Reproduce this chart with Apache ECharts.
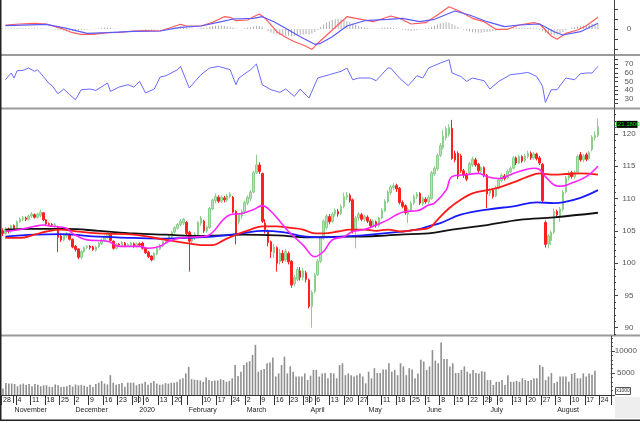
<!DOCTYPE html>
<html><head><meta charset="utf-8">
<script src="https://cdn.jsdelivr.net/npm/echarts@6/dist/echarts.min.js"></script>
<style>html,body{margin:0;padding:0;background:#fff}#c{width:640px;height:423px}</style>
</head><body><div id="c"></div>
<script>
// ---------- categories ----------
const firstDay = [2019, 9, 28];
const holidays = ['2020-01-01','2020-01-23','2020-01-24','2020-01-27','2020-01-28','2020-01-29','2020-04-02','2020-04-30','2020-05-01'];
const slotCount = 210;
const monthNames = ['2020','February','March','April','May','June','July','August','September','October','November','December'];

// ---------- price candles [open, close, low, high] ----------
const candles = [
[105.0,104.6,104.2,105.4],[104.6,105.3,104.4,105.6],[105.3,104.9,104.6,105.5],[104.9,105.8,104.7,106.0],[105.8,105.4,105.1,106.0],
[105.5,106.4,105.3,106.6],[106.4,106.8,106.2,107.1],[106.8,107.0,106.5,107.3],[107.0,106.8,106.5,107.2],[106.8,107.3,106.6,107.5],
[107.3,107.6,107.0,107.9],[107.5,107.1,106.9,107.7],[107.1,107.6,106.9,107.8],[107.4,107.9,107.1,108.3],[107.8,106.7,106.5,107.9],
[106.7,106.1,105.9,106.8],[106.1,106.0,105.7,106.3],[106.0,105.9,105.6,106.2],[105.8,106.0,105.5,106.2],[105.6,104.0,101.7,105.8],
[104.2,103.6,103.3,104.5],[103.6,104.3,103.4,104.5],[104.2,104.6,103.9,104.8],[104.5,103.7,103.5,104.6],[103.7,102.5,102.3,103.8],
[102.6,102.1,101.8,102.8],[102.2,100.9,100.6,102.3],[100.9,101.8,100.6,102.0],[101.8,102.4,101.6,102.6],[102.4,102.6,102.2,102.8],
[102.6,102.4,102.1,102.8],[102.5,102.1,101.9,102.7],[102.0,102.5,101.8,102.7],[102.5,103.1,102.3,103.3],[103.0,103.6,102.8,103.8],
[103.5,104.1,103.3,104.3],[104.0,104.6,103.8,104.8],[104.4,103.5,103.3,104.6],[103.4,102.3,102.1,103.5],[102.3,102.9,102.1,103.1],
[102.9,102.8,102.5,103.1],[102.7,103.2,102.5,103.4],[103.1,102.7,102.5,103.3],[102.7,102.9,102.5,103.1],[102.8,103.1,102.6,103.3],
[103.0,102.6,102.4,103.2],[102.6,103.0,102.4,103.2],[103.0,102.8,102.5,103.2],[103.1,102.3,102.1,103.3],[102.3,101.6,101.4,102.4],
[101.7,101.0,100.8,101.9],[101.1,100.5,100.3,101.2],[100.6,101.5,100.4,101.7],[101.4,102.3,101.2,102.5],[102.2,102.8,102.0,103.0],
[102.7,103.3,102.5,103.5],[103.3,103.6,103.0,103.8],[103.5,104.2,103.3,104.4],[104.1,104.8,103.9,105.0],[104.8,105.5,104.6,105.7],
[105.4,106.0,105.2,106.2],[106.0,106.5,105.7,106.8],[106.2,106.8,105.9,107.0],[106.3,104.6,104.3,106.5],[104.8,103.4,98.7,105.0],
[103.4,104.3,103.0,104.5],[104.0,104.5,103.6,104.8],[104.3,106.3,104.1,106.5],[106.2,107.0,105.8,107.3],[106.5,105.0,104.7,106.7],
[105.0,105.6,104.7,105.8],[105.5,108.5,105.3,108.7],[108.4,109.8,108.2,110.0],[109.7,110.3,109.3,110.8],[110.2,109.6,109.3,110.5],
[109.6,110.2,109.3,110.5],[110.1,109.8,109.4,110.4],[109.8,110.4,109.5,110.7],[110.3,110.7,110.0,111.0],[110.2,107.9,107.7,110.4],
[108.0,104.6,102.9,108.2],[106.4,107.4,106.0,107.7],[107.3,108.0,106.8,108.3],[108.0,109.4,107.6,109.7],[109.3,110.2,109.0,110.5],
[110.0,111.0,109.6,111.3],[111.0,114.0,110.8,114.3],[114.0,115.2,113.8,116.8],[115.2,114.2,113.8,115.6],[113.9,106.5,106.2,114.0],
[106.2,105.2,104.6,106.8],[104.9,103.2,102.6,105.2],[103.3,101.8,100.8,103.5],[101.6,102.5,100.8,103.0],[102.4,100.0,98.7,102.6],
[100.2,101.6,99.8,102.2],[101.5,100.4,100.0,102.0],[100.5,101.8,100.2,102.2],[101.5,100.2,99.8,101.8],[100.3,96.6,96.2,100.5],
[96.8,97.8,96.4,98.2],[97.5,99.0,97.2,99.4],[98.8,97.8,97.3,99.4],[97.8,98.8,97.3,99.2],[98.5,97.5,97.0,98.8],
[97.4,93.3,93.0,97.6],[93.3,95.5,90.0,95.8],[95.6,98.2,95.3,98.5],[98.2,100.3,98.0,100.6],[100.3,103.9,100.0,104.2],
[103.9,106.5,103.6,106.8],[105.5,107.3,105.2,107.6],[107.2,106.4,106.0,107.6],[106.5,107.6,106.2,107.9],[107.6,108.2,107.2,108.5],
[108.0,107.6,107.2,108.4],[107.7,108.8,107.4,109.1],[108.8,110.3,108.5,110.9],[110.2,110.5,109.8,111.0],[110.5,109.7,109.4,110.8],
[109.8,104.9,104.6,110.0],[105.2,107.0,102.3,107.3],[107.0,107.6,106.6,107.9],[107.5,106.8,106.5,107.8],[106.8,107.2,106.4,107.5],
[107.1,106.5,106.2,107.4],[106.5,105.8,105.5,106.8],[105.8,106.5,105.5,106.8],[106.4,105.8,105.5,106.6],[105.8,107.0,105.6,107.2],
[107.0,108.2,106.8,108.5],[108.1,109.6,107.9,109.9],[109.5,111.0,109.3,111.3],[110.9,111.8,110.6,112.1],[111.7,112.0,111.3,112.4],
[112.0,111.5,111.0,112.3],[111.6,109.4,109.1,111.8],[109.4,108.8,108.5,109.7],[108.9,107.8,107.5,109.1],[107.6,108.3,106.2,108.6],
[108.2,109.3,108.0,109.6],[109.3,110.3,109.0,110.6],[110.3,110.7,109.9,111.0],[110.8,109.3,109.0,111.0],[109.2,110.0,108.9,110.3],
[109.9,109.5,109.2,110.2],[109.5,110.2,109.2,110.5],[110.0,114.0,109.8,114.3],[113.8,114.7,113.5,115.0],[114.6,116.7,114.3,117.0],
[116.7,118.2,116.4,118.6],[117.9,119.7,117.6,120.6],[119.4,120.8,119.0,121.2],[119.9,121.0,119.6,121.5],[120.9,116.2,116.0,122.2],
[117.0,116.0,115.6,117.4],[117.0,113.4,113.0,117.3],[116.6,114.3,114.0,116.9],[114.3,113.6,113.2,114.6],[113.7,113.0,112.7,114.0],
[114.0,115.4,113.8,115.7],[115.2,116.1,114.9,116.5],[116.0,115.2,114.9,116.3],[115.3,114.3,114.0,115.5],[114.2,114.8,113.9,115.0],
[114.8,113.6,113.3,115.0],[113.6,110.7,108.5,113.8],[110.8,111.3,110.4,111.6],[111.3,110.3,110.0,111.5],[110.4,111.7,110.2,112.0],
[111.6,112.9,111.4,113.1],[112.8,113.6,112.5,113.9],[113.5,113.1,112.8,113.8],[113.2,114.2,113.0,114.5],[114.1,114.7,113.9,115.0],
[114.7,116.3,114.5,116.6],[116.3,115.5,115.2,116.5],[115.5,116.5,115.3,116.8],[116.5,115.8,115.5,116.7],[115.9,116.6,115.6,116.9],
[116.5,117.0,116.2,117.4],[117.0,116.3,116.0,117.3],[116.3,116.9,116.0,117.2],[116.9,116.2,115.9,117.1],[116.3,115.5,115.2,116.6],
[115.3,109.7,109.4,115.5],[106.3,102.9,102.4,106.6],[103.0,104.2,102.3,104.5],[103.5,104.8,102.8,105.0],[104.8,108.0,104.5,108.5],
[108.0,107.5,107.0,108.3],[107.3,108.4,106.4,108.7],[108.3,111.0,108.0,111.3],[111.0,113.2,110.8,113.5],[113.2,114.0,112.8,114.3],
[114.0,113.4,113.1,114.3],[113.4,114.0,113.0,114.3],[114.1,116.5,113.9,116.8],[116.8,116.0,115.7,117.2],[116.0,116.6,115.6,116.9],
[116.8,116.1,115.8,117.1],[116.2,117.1,115.9,117.4],[117.6,119.5,117.3,119.8],[119.4,119.8,119.0,120.4],[119.8,121.18,119.5,122.4]
];
const lastClose = 121.18;

// ---------- volume (x1000) ----------
const volumes = [
1500,2700,2600,2600,2500,2000,2400,2600,2300,2500,2000,2500,2300,2000,2200,2200,1900,1800,2400,2200,1800,1900,2000,2300,1900,
2400,2200,2300,2100,1900,2300,1800,2500,2800,3200,2600,2400,4500,2800,2300,2500,2700,1900,2800,2800,
2800,2200,2500,2600,3000,2300,2800,3200,2600,2300,2400,2700,2600,2800,2800,3000,3600,3800,4900,
6400,3600,3500,3400,3300,3000,4000,3400,3200,3300,3300,3600,3400,3000,3200,3800,6800,4300,5300,
6800,7400,7700,9100,11400,5300,5700,5900,7200,7400,8500,4200,4900,6800,8700,4900,6500,5300,4200,4200,4200,4900,3400,4400,5700,
5700,4200,4900,5000,3800,5000,4900,3800,6800,7200,
4500,4900,4500,4200,4500,4900,4200,2650,5300,3800,
6100,5000,5000,5800,5800,7200,5300,5700,4500,7200,
6500,4500,6100,5800,3800,4900,8000,7600,5700,6500,
10200,7800,7200,11900,8200,8200,6500,7200,5000,5000,
5700,6500,5300,4900,5700,5000,4900,5400,5300,3400,
3400,2270,3000,3000,3400,2270,4500,3000,3000,3200,
3000,3800,3400,3200,3400,3800,3800,6800,6400,3400,
4200,5000,2700,3000,4200,4200,4200,3000,4800,5000,
3800,3800,4900,4200,4900,4600,5500
];

// ---------- moving averages, read at [day index, value] ----------
const maMagenta = [[1,104.9],[6,105.2],[11,105.7],[14,105.9],[17,105.7],[22,105.4],[24,104.6],[29,103.6],[36,103.4],[40,102.6],[47,102.6],[50,102.3],[54,102.6],[57,103.4],[61,103.9],[68,104.1],[71,104.4],[78,107.5],[82,107.7],[86,108.3],[89,108.9],[92,108.0],[95,106.5],[98,104.9],[103,102.8],[107,101.0],[110,101.8],[113,103.6],[117,104.1],[120,104.9],[124,105.2],[128,105.9],[132,106.7],[135,107.5],[138,108.0],[142,108.1],[146,109.0],[148,109.3],[152,111.3],[154,113.4],[159,113.7],[163,113.9],[166,113.4],[170,113.1],[174,113.7],[177,114.2],[182,114.7],[184,114.5],[186,113.4],[189,112.1],[191,111.9],[195,112.4],[200,113.4],[204,115.0]];
const maRed = [[1,103.9],[6,103.9],[11,104.4],[15,104.9],[20,105.2],[24,105.0],[33,104.6],[45,104.4],[56,103.6],[63,103.1],[68,102.8],[72,102.8],[76,103.6],[80,104.4],[85,105.2],[89,105.7],[94,105.7],[98,105.5],[103,105.2],[107,104.6],[110,104.6],[115,104.9],[119,105.2],[124,105.2],[128,105.0],[132,105.2],[137,104.9],[142,105.2],[146,105.4],[149,106.7],[153,108.5],[157,109.8],[161,110.8],[166,111.3],[170,111.7],[175,112.5],[180,113.4],[184,113.9],[189,113.7],[193,113.8],[198,113.9],[204,113.7]];
const maBlue = [[1,104.1],[11,104.4],[20,104.5],[24,104.4],[33,104.1],[45,103.9],[56,103.8],[63,103.9],[72,104.1],[82,104.6],[89,105.0],[96,104.8],[104,104.1],[110,104.0],[117,104.1],[126,104.4],[135,104.8],[142,105.2],[146,105.7],[150,106.2],[157,107.5],[166,108.3],[175,108.8],[183,109.4],[189,109.3],[192,109.4],[198,110.1],[204,111.3]];
const maBlack = [[1,105.2],[10,105.3],[22,105.3],[33,105.0],[45,104.6],[56,104.4],[68,104.2],[75,104.3],[82,104.4],[94,104.3],[105,104.0],[117,104.1],[128,104.2],[140,104.5],[146,104.6],[154,105.2],[166,105.9],[177,106.7],[189,107.1],[204,107.8]];

// ---------- MACD ----------
const macdLine = [[1,0.4],[6,0.5],[11,0.57],[15,0.5],[20,0.07],[24,-0.37],[27,-0.53],[31,-0.53],[36,-0.37],[40,-0.33],[45,-0.2],[49,-0.17],[54,-0.2],[58,0.17],[61,0.47],[63,0.3],[68,0.3],[72,0.67],[76,1.23],[78,1.17],[80,0.83],[84,0.9],[86,1.23],[88,1.5],[90,1.07],[94,-0.27],[97,-0.83],[100,-1.27],[103,-1.6],[106,-2.03],[108,-1.43],[113,-0.1],[118,1.23],[121,1.07],[127,0.73],[133,1.3],[136,1.07],[140,0.5],[145,0.63],[149,1.4],[153,2.23],[157,1.73],[161,1.07],[165,0.73],[169,-0.03],[173,-0.03],[177,0.4],[182,0.63],[184,0.5],[188,-0.7],[190,-1.03],[193,-0.43],[197,-0.1],[200,0.33],[204,1.17]];
const signalLine = [[1,0.33],[15,0.47],[22,0.07],[29,-0.43],[36,-0.37],[45,-0.23],[54,-0.2],[61,0.17],[68,0.3],[75,0.73],[79,1.0],[86,1.07],[89,1.23],[93,0.73],[97,0.07],[102,-0.77],[107,-1.53],[109,-1.43],[113,-0.77],[118,0.3],[124,0.83],[132,0.97],[137,1.07],[143,0.73],[148,0.97],[155,1.8],[160,1.4],[166,0.73],[172,0.23],[177,0.4],[184,0.5],[189,-0.27],[192,-0.6],[198,-0.27],[204,0.57]];
const macdHist = [
0.05,0.06,0.06,0.07,0.07,0.08,0.08,0.08,0.07,0.07,0.06,0.05,0.05,0.04,0.03,0.02,
-0.02,-0.04,-0.06,-0.1,-0.13,-0.15,-0.16,-0.17,-0.17,-0.16,-0.14,-0.12,-0.1,
-0.07,-0.04,-0.02,0.02,0.05,
0.1,0.14,0.15,0.12,
0.06,0.02,0.0,-0.02,-0.03,-0.03,-0.02,-0.02,-0.01,0.0,-0.02,-0.04,-0.06,-0.07,-0.06,-0.04,-0.01,0.02,
0.06,0.09,0.12,0.15,0.17,0.2,0.2,0.15,
0.06,0.04,0.03,0.05,
0.1,0.12,0.13,0.2,0.28,0.33,0.35,0.34,0.3,0.26,0.22,0.16,0.05,0.0,0.02,0.08,0.14,0.2,0.26,0.32,0.3,0.22,
0.0,-0.2,-0.35,-0.48,-0.55,-0.6,-0.62,-0.65,-0.68,-0.72,-0.7,-0.68,-0.62,-0.55,-0.5,-0.55,-0.45,-0.3,-0.1,
0.2,0.45,0.65,0.8,0.9,0.98,1.0,0.97,0.9,0.8,0.68,0.55,0.42,0.3,0.2,0.15,
0.1,0.06,0.04,0.05,0.08,0.12,0.16,0.18,0.15,0.1,0.05,0.0,
-0.05,-0.1,-0.15,-0.18,-0.16,-0.12,-0.06,-0.02,0.05,0.12,
0.22,0.33,0.45,0.55,0.63,0.68,0.65,0.5,0.35,0.2,
0.05,-0.08,-0.18,-0.26,-0.32,-0.36,-0.38,-0.37,-0.33,-0.3,-0.27,-0.22,-0.17,-0.12,-0.08,-0.03,
0.02,0.05,0.08,0.1,0.11,0.12,0.12,0.11,0.1,0.08,0.05,
-0.05,-0.2,-0.38,-0.5,-0.58,-0.6,-0.55,-0.45,-0.3,
-0.15,0.0,0.1,0.18,0.25,0.3,0.35,0.4,0.45,0.5,0.53,0.55
];

// ---------- RSI ----------
const rsiLine = [[1,52],[3,59.7],[4,54],[5,62.3],[7,62.7],[9,65.4],[11,61.6],[12,63.5],[14,55.8],[16,47.5],[17,45.2],[19,36],[21,41.4],[23,35],[25,29.2],[27,40.6],[30,41.4],[32,39.8],[36,48.3],[37,38.7],[40,43.7],[43,46.3],[45,43.7],[47,50.1],[49,36.9],[52,41.4],[54,55.1],[56,56.6],[60,63.5],[61,67.3],[64,42.6],[68,57.8],[71,65.4],[74,67.3],[78,63.5],[80,46.3],[81,54],[85,63.5],[87,70],[89,46.3],[92,40.6],[95,37.6],[97,41.4],[100,33],[102,41.4],[105,31.1],[108,54],[112,57.8],[116,61.6],[118,65.4],[120,52],[122,54],[126,54],[128,50.9],[132,65.4],[133,65.4],[136,54],[139,45.2],[142,56.6],[144,54],[146,65.4],[150,71.1],[153,74.9],[154,59.7],[157,55.8],[159,50.1],[161,54],[165,50.9],[167,41.4],[170,50.1],[174,57.8],[177,58.9],[180,60.4],[183,55.8],[185,44.7],[186,26.1],[188,40.6],[190,40.6],[193,54],[196,52],[198,58.9],[200,59.7],[202,59.7],[204,67.3]];

// ---------- axis tick labels ----------
const priceTicks = [90,95,100,105,110,115,120];
const rsiTicks = [30,40,50,60,70];
const volTicks = [5000,10000];
const macdTicks = [0];

// ---------- build trading-day categories ----------
const dates = [];
{
  const d = new Date(Date.UTC(firstDay[0], firstDay[1], firstDay[2]));
  while (dates.length < slotCount) {
    const wd = d.getUTCDay();
    const s = d.toISOString().slice(0,10);
    if (wd !== 0 && wd !== 6 && holidays.indexOf(s) < 0) dates.push(s);
    d.setUTCDate(d.getUTCDate()+1);
  }
}
const toD = s => new Date(s + 'T00:00:00Z');
const weekStart = dates.map((s,i) => {
  if (i === 0) return true;
  const a = toD(dates[i-1]), b = toD(s);
  return b.getUTCDay() < a.getUTCDay() || (b - a) >= 7*864e5;
});
const weekLabel = [];
let lastW = -10;
dates.forEach((s,i) => {
  let show = false;
  if (weekStart[i]) { show = (i - lastW) >= 4; lastW = i; }
  weekLabel.push(show);
});
const mondayDay = dates.map(s => { const b = toD(s); const wd = b.getUTCDay(); b.setUTCDate(b.getUTCDate() - (wd - 1)); return b.getUTCDate(); });
const monthStart = dates.map((s,i) => i > 0 && s.slice(5,7) !== dates[i-1].slice(5,7));
const monthLabel = dates.map(s => monthNames[(+s.slice(5,7) + 11) % 12]);

const FONT = 'Liberation Sans, Arial, sans-serif';
const grids = [
  {left:1, right:26, top:0, height:54},
  {left:1, right:26, top:55.25, height:52.5},
  {left:1, right:26, top:109, height:226},
  {left:1, right:26, top:336, height:59}
];
const hiddenX = gi => ({type:'category', gridIndex:gi, data:dates, boundaryGap:true, show:false});
const axisCol = '#444';
const rightAxis = (gi, min, max, labels, ticks) => ({
  type:'value', gridIndex:gi, position:'right', min, max, scale:true,
  axisLine:{show:true, lineStyle:{color:axisCol, width:1}},
  axisTick:{show:true, length:4, customValues:ticks, lineStyle:{color:axisCol}},
  axisLabel:{show:true, customValues:labels, formatter:(v)=>String(v), align:'center', margin:15, fontSize:8, color:'#555', fontFamily:FONT},
  splitLine:{show:false}
});
const minorAxis = (gi, min, max, ticks) => ({
  type:'value', gridIndex:gi, position:'right', min, max,
  axisLine:{show:false},
  axisTick:{show:true, length:2, customValues:ticks, lineStyle:{color:axisCol}},
  axisLabel:{show:false}, splitLine:{show:false}
});
const range = (a,b,s) => { const r=[]; for (let v=a; v<=b+1e-9; v+=s) r.push(+v.toFixed(4)); return r; };

const lineSeries = (name, data, color, xi, yi, w, smooth) => ({
  name, type:'line', xAxisIndex:xi, yAxisIndex:yi, data, symbol:'none', showSymbol:false,
  smooth: smooth, connectNulls:true, lineStyle:{color, width:w}, silent:true, z:3
});

const chart = echarts.init(document.getElementById('c'), null, {renderer:'canvas'});
chart.setOption({
  animation:false,
  backgroundColor:'#ffffff',
  textStyle:{fontFamily:FONT},
  grid: grids,
  xAxis: [
    hiddenX(0), hiddenX(1), hiddenX(2),
    {type:'category', gridIndex:3, data:dates, boundaryGap:true, position:'bottom',
     axisLine:{show:true, lineStyle:{color:'#333', width:1}},
     axisTick:{show:true, interval:(i)=>weekStart[i], length:10, lineStyle:{color:'#333'}},
     axisLabel:{show:true, interval:(i)=>weekLabel[i], formatter:(v,i)=>String(mondayDay[i]), align:'left', margin:2, fontSize:7, color:'#222', fontFamily:FONT},
     splitLine:{show:false}},
    {type:'category', gridIndex:3, data:dates, boundaryGap:true, position:'bottom', offset:10,
     axisLine:{show:true, lineStyle:{color:'#333', width:1}},
     axisTick:{show:true, interval:(i)=>monthStart[i], length:8, lineStyle:{color:'#333'}},
     axisLabel:{show:true, interval:(i)=>monthStart[i], formatter:(v,i)=>monthLabel[i], align:'left', margin:2, fontSize:7, color:'#222', fontFamily:FONT},
     splitLine:{show:false}}
  ],
  yAxis: [
    rightAxis(0, -2.5, 2.9, macdTicks, [-2,-1,0,1,2]),
    rightAxis(1, 20, 80, rsiTicks, range(25,75,5)),
    rightAxis(2, 88.87, 123.87, priceTicks, priceTicks),
    minorAxis(2, 88.87, 123.87, range(89,123,1)),
    rightAxis(3, 0, 13400, volTicks, [0,5000,10000]),
    minorAxis(3, 0, 13400, range(1000,13000,1000))
  ],
  series: [
    {type:'bar', xAxisIndex:0, yAxisIndex:0, data:macdHist, barWidth:1, itemStyle:{color:'#b0b0b0'}, silent:true},
    lineSeries('macd', macdLine, '#ff5a5a', 0, 0, 1.2, false),
    lineSeries('signal', signalLine, '#5a5aff', 0, 0, 1.2, false),
    lineSeries('rsi', rsiLine, '#6a6aff', 1, 1, 1, false),
    {type:'candlestick', xAxisIndex:2, yAxisIndex:2, data:candles, barWidth:2, silent:true, z:2,
     itemStyle:{color:'#b4e2b4', color0:'#ff2020', borderColor:'#8ccf8c', borderColor0:'#ff2020', borderWidth:1}},
    lineSeries('ma black', maBlack, '#111111', 2, 2, 1.8, 0.4),
    lineSeries('ma blue', maBlue, '#1a1aff', 2, 2, 1.8, 0.4),
    lineSeries('ma red', maRed, '#ff1a1a', 2, 2, 1.8, 0.4),
    lineSeries('ma magenta', maMagenta, '#ff22ff', 2, 2, 1.6, 0.4),
    {type:'bar', xAxisIndex:3, yAxisIndex:4, data:volumes, barWidth:1.6, itemStyle:{color:'#8f8f8f'}, silent:true}
  ]
});

// decorations: panel separators, frame, last-price flag
const yLast = chart.convertToPixel({yAxisIndex:2}, lastClose);
chart.setOption({
  graphic: [
    {type:'rect', shape:{x:615, y:397, width:25, height:21}, style:{fill:'#eeeeee'}, silent:true},
    {type:'line', shape:{x1:0, y1:55, x2:640, y2:55}, style:{stroke:'#9a9a9a', lineWidth:2}, silent:true},
    {type:'line', shape:{x1:0, y1:108.5, x2:640, y2:108.5}, style:{stroke:'#9a9a9a', lineWidth:2}, silent:true},
    {type:'line', shape:{x1:0, y1:335.5, x2:640, y2:335.5}, style:{stroke:'#9a9a9a', lineWidth:2}, silent:true},
    {type:'line', shape:{x1:0.75, y1:0, x2:0.75, y2:421}, style:{stroke:'#222', lineWidth:1.5}, silent:true},
    {type:'line', shape:{x1:0, y1:420.25, x2:640, y2:420.25}, style:{stroke:'#222', lineWidth:1.5}, silent:true},
    {type:'rect', shape:{x:615.5, y:387.5, width:15, height:7}, style:{fill:'#fff', stroke:'#555', lineWidth:1}, silent:true},
    {type:'text', x:623, y:391, style:{text:'x1000', font:'5px ' + FONT, fill:'#333', align:'center', verticalAlign:'middle'}, silent:true},
    {type:'rect', shape:{x:616.5, y:yLast-5.5, width:21, height:7}, style:{fill:'#000'}, silent:true},
    {type:'text', x:627, y:yLast-2, style:{text:lastClose.toFixed(4), font:'6px ' + FONT, fill:'#00e000', align:'center', verticalAlign:'middle'}, silent:true}
  ]
});
</script>
</body></html>
